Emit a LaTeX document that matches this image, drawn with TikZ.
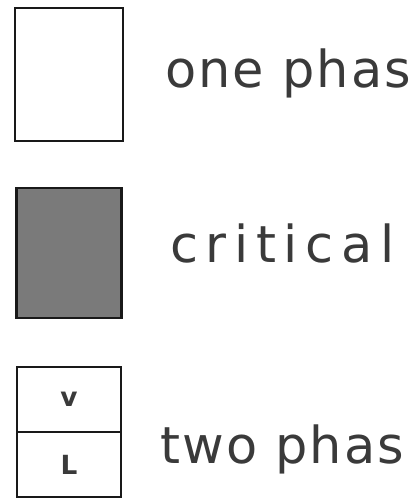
\documentclass[tikz,border=0pt]{standalone}
\usepackage{fontspec}
\newfontfamily\handfont[LetterSpace=4]{DejaVu Sans}
\usetikzlibrary{positioning}
\definecolor{ink}{HTML}{3A3A3A}
\tikzset{
  cell/.style={draw=black!90, rectangle, line width=1.6pt, inner sep=0pt, outer sep=0pt},
  hw/.style={font=\handfont\fontsize{29}{35}\selectfont, text=ink, inner sep=0pt},
  sw/.style={font=\handfont\bfseries\fontsize{15}{17}\selectfont, text=ink, inner sep=0pt},
}
\begin{document}
\begin{tikzpicture}
\useasboundingbox (0,0) rectangle (8.38,10.04);

% the three states
\node[cell, minimum width=2.16cm, minimum height=2.66cm] (one) at (1.38,8.55) {};
\node[cell, fill=black!52, minimum width=2.10cm, minimum height=2.60cm, below=0.94cm of one] (crit) {};
\node[cell, minimum width=2.08cm, minimum height=1.30cm, below=0.98cm of crit] (vap) {};
\node[cell, minimum width=2.08cm, minimum height=1.30cm, below=0cm of vap] (liq) {};

\node[sw] (vlbl) at (vap) {v};
\node[sw] (llbl) at (liq) {L};

% labels
\node[hw, anchor=base west] (onetxt) at (3.30,8.28) {one phas};
\node[hw, anchor=base west] (crittxt) at (3.40,4.78) {\addfontfeature{LetterSpace=15}critical};
\node[hw, anchor=base west] (twotxt) at (3.20,0.78) {two phas};

\end{tikzpicture}
\end{document}
